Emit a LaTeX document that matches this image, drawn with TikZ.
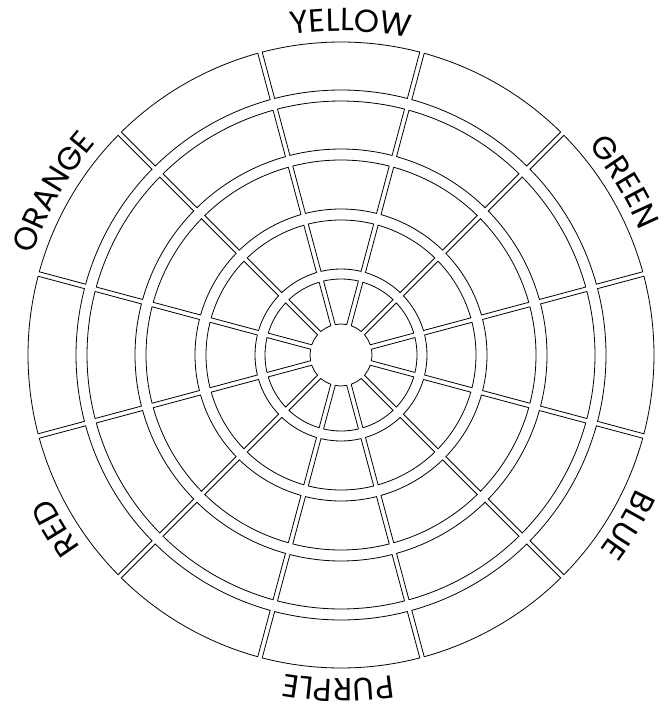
\documentclass[tikz,border=0pt]{standalone}
\usepackage{fontspec}
\setmainfont{Poppins}
\usetikzlibrary{decorations.text}
\begin{document}
\begin{tikzpicture}[x=1pt,y=1pt,
  cellline/.style={draw=black, line width=0.8pt, line join=miter},
  wheellabel/.style={decorate, decoration={text along path, text align=center,
      text={|\fontsize{32}{32}\selectfont|#1}}}]
\useasboundingbox (0,0) rectangle (671,-711);
\begin{scope}[shift={(341,-355)}]
\foreach \ri/\ro in {31/76,86/135,146/195,206/254,265/313}{
  \foreach \k in {0,...,11}{
    \pgfmathsetmacro\ai{\k*30-15+asin(2.3/\ri)}
    \pgfmathsetmacro\bi{\k*30+15-asin(2.3/\ri)}
    \pgfmathsetmacro\ao{\k*30-15+asin(2.3/\ro)}
    \pgfmathsetmacro\bo{\k*30+15-asin(2.3/\ro)}
    \draw[cellline] (\ai:\ri pt) -- (\ao:\ro pt) arc[start angle=\ao, end angle=\bo, radius=\ro pt]
      -- (\bi:\ri pt) arc[start angle=\bi, end angle=\ai, radius=\ri pt] -- cycle;
  }
}
\foreach \lab/\ang in {YELLOW/88.3, GREEN/31.4, BLUE/-30.7, PURPLE/269.5, RED/211.2, ORANGE/150.5}{
  \path[wheellabel=\lab] (\ang+30:324pt) arc[start angle=\ang+30, end angle=\ang-30, radius=324pt];
}
\end{scope}
\end{tikzpicture}
\end{document}
